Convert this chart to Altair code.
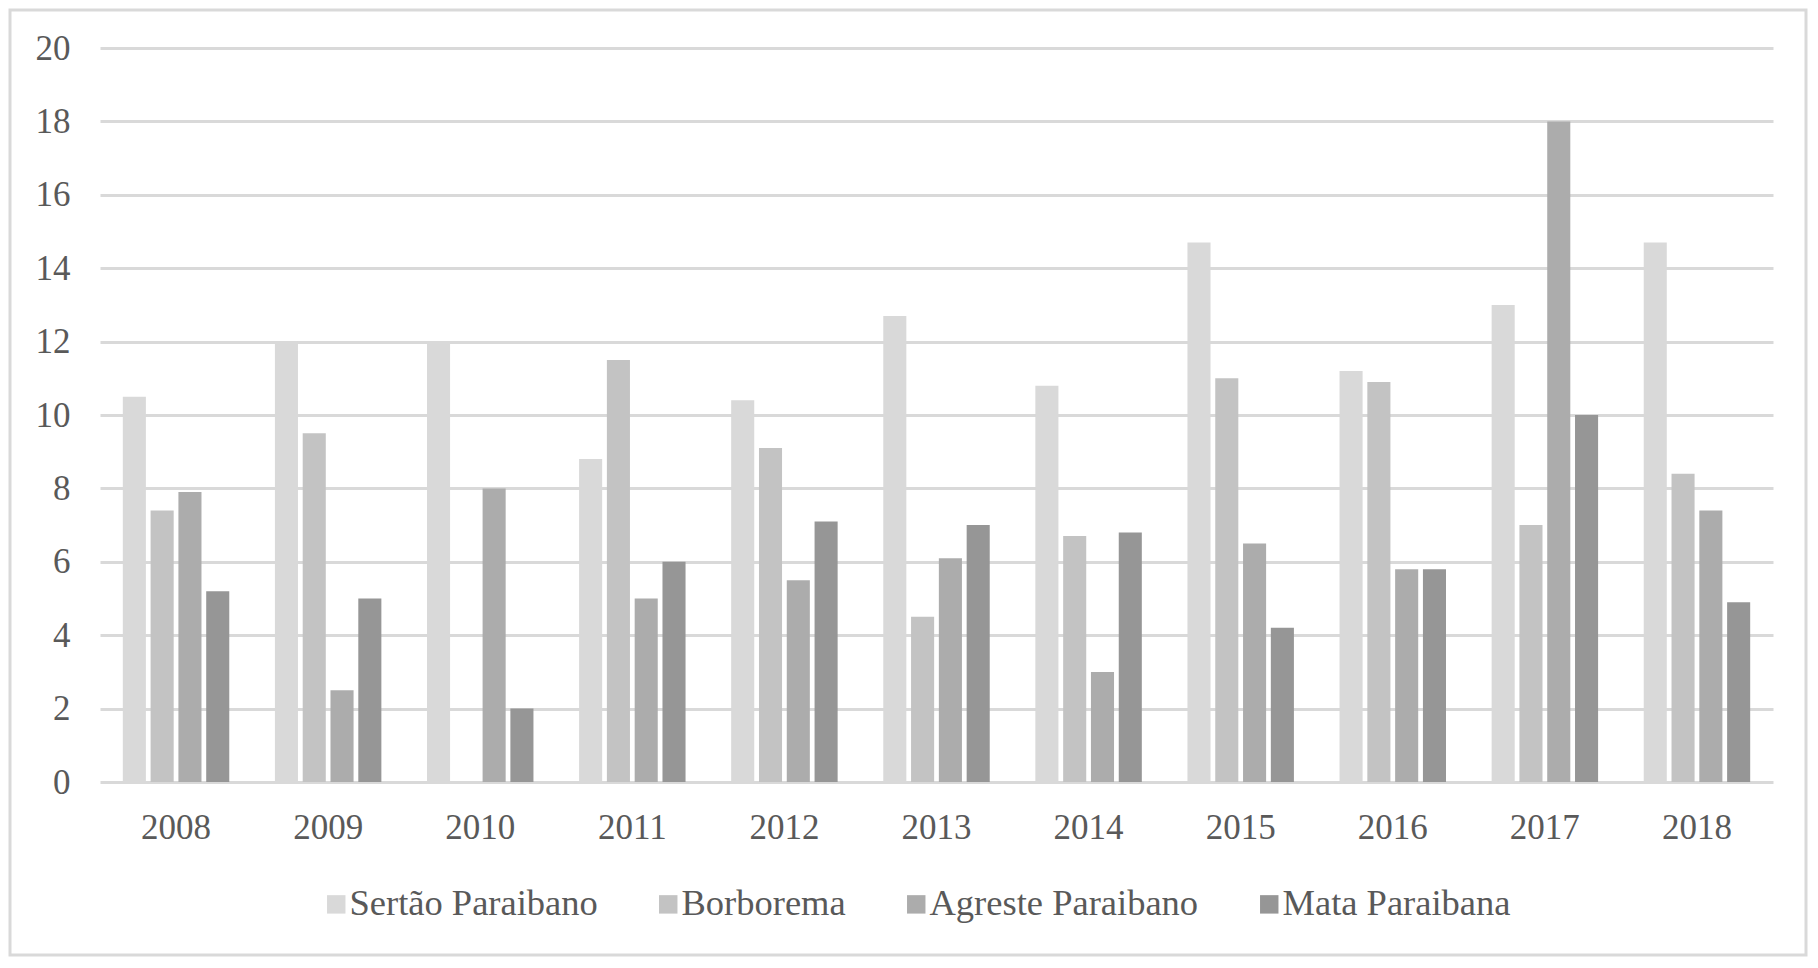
import altair as alt
import pandas as pd

years = ["2008", "2009", "2010", "2011", "2012", "2013", "2014", "2015", "2016", "2017", "2018"]
series = ["Sertão Paraibano", "Borborema", "Agreste Paraibano", "Mata Paraibana"]
sertao = [10.5, 12.0, 12.0, 8.8, 10.4, 12.7, 10.8, 14.7, 11.2, 13.0, 14.7]
borborema = [7.4, 9.5, 0.0, 11.5, 9.1, 4.5, 6.7, 11.0, 10.9, 7.0, 8.4]
agreste = [7.9, 2.5, 8.0, 5.0, 5.5, 6.1, 3.0, 6.5, 5.8, 18.0, 7.4]
mata = [5.2, 5.0, 2.0, 6.0, 7.1, 7.0, 6.8, 4.2, 5.8, 10.0, 4.9]
colors = ["#D9D9D9", "#C3C3C3", "#ACACAC", "#969696"]
y_ticks = [0, 2, 4, 6, 8, 10, 12, 14, 16, 18, 20]

rows = []
for name, vals in zip(series, [sertao, borborema, agreste, mata]):
    for yr, v in zip(years, vals):
        rows.append({"Ano": yr, "Região": name, "Valor": v})
df = pd.DataFrame(rows)

FONT = "Liberation Serif"
TXT = "#595959"
GRID = "#D9D9D9"

bars = alt.Chart(df).mark_bar().encode(
    x=alt.X(
        "Ano:N",
        sort=years,
        scale=alt.Scale(paddingInner=0.30, paddingOuter=0.15),
        axis=alt.Axis(
            title=None, labelAngle=0, domain=False, ticks=False,
            labelFont=FONT, labelFontSize=35, labelColor=TXT, labelPadding=28,
        ),
    ),
    xOffset=alt.XOffset(
        "Região:N", sort=series,
        scale=alt.Scale(paddingInner=0.17, paddingOuter=0),
    ),
    y=alt.Y(
        "Valor:Q",
        scale=alt.Scale(domain=[0, 20], nice=False),
        axis=alt.Axis(
            title=None, values=y_ticks, domain=False, ticks=False,
            grid=True, gridColor=GRID, gridWidth=3,
            labelFont=FONT, labelFontSize=35, labelColor=TXT, labelPadding=30,
        ),
    ),
    color=alt.Color(
        "Região:N",
        sort=series,
        scale=alt.Scale(domain=series, range=colors),
        legend=alt.Legend(
            title=None, orient="none", direction="horizontal",
            legendX=218, legendY=838,
            symbolType="square", symbolSize=340, symbolStrokeWidth=0,
            labelFont=FONT, labelFontSize=36.5, labelColor=TXT,
            labelOffset={"expr": "-5"}, columnPadding=52, labelLimit=600,
        ),
    ),
)

frame_df = pd.DataFrame({"k": [0]})
frame = alt.Chart(frame_df).mark_rect(
    filled=False, stroke=GRID, strokeWidth=3
).encode(
    x=alt.value(-90), x2=alt.value(1706),
    y=alt.value(-38), y2=alt.value(907),
)

chart = alt.layer(frame, bars).properties(
    width=1673,
    height=734,
    autosize=alt.AutoSizeParams(type="none"),
    padding={"left": 92, "top": 40, "right": 35, "bottom": 176},
    background="white",
).configure_view(stroke=None)

chart.save("out.html", embed_options={"renderer": "svg", "actions": False})
